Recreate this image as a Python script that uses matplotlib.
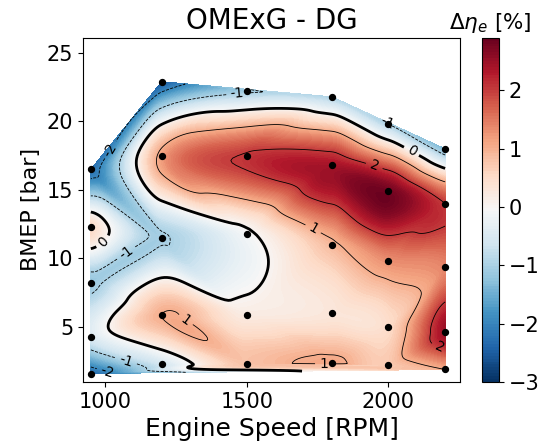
import numpy as np
import matplotlib
matplotlib.use("Agg")
import matplotlib.pyplot as plt
import matplotlib.tri as mtri

# operating points (engine speed [rpm], BMEP [bar]) and efficiency difference [%]
speed = [950, 950, 950, 950, 950,
         1200, 1200, 1200, 1200, 1200,
         1500, 1500, 1500, 1500, 1500,
         1800, 1800, 1800, 1800, 1800,
         2000, 2000, 2000, 2000, 2000,
         2200, 2200, 2200, 2200, 2200]
bmep = [1.6, 4.3, 8.2, 12.3, 16.5,
        2.3, 5.9, 11.5, 17.5, 22.9,
        2.3, 5.9, 11.8, 17.5, 22.2,
        2.4, 6.0, 11.0, 16.8, 21.8,
        2.2, 5.0, 9.8, 14.9, 19.8,
        1.9, 4.6, 9.4, 14.0, 18.0]
d_eta = [-2.4, -0.5, -1.15, 0.5, -2.3,
         -0.6, 1.0, -1.05, 1.15, -2.6,
         0.8, 0.2, -0.1, 2.05, -1.1,
         1.1, 0.3, 0.9, 2.4, -1.0,
         0.7, 0.5, 1.3, 2.8, -1.0,
         1.0, 2.5, 1.4, 2.0, -1.4]

line_levels = [-2, -1, 0, 1, 2]
cbar_ticks = [-3, -2, -1, 0, 1, 2]

x = np.array(speed, dtype=float)
y = np.array(bmep, dtype=float)
z = np.array(d_eta, dtype=float)

# cubic interpolation on the triangulated operating map
tri = mtri.Triangulation(x, y)
interp = mtri.CubicTriInterpolator(tri, z, kind="geom")
refiner = mtri.UniformTriRefiner(tri)
tri_r, z_r = refiner.refine_field(z, triinterpolator=interp, subdiv=5)
z_r = np.clip(z_r, -2.99, 2.89)

fig = plt.figure(figsize=(5.42, 4.45), dpi=100)
ax = fig.add_axes([0.153, 0.142, 0.696, 0.773])
cax = fig.add_axes([0.889, 0.142, 0.031, 0.773])

levels = np.linspace(-3, 2.9, 120)
cf = ax.tricontourf(tri_r, z_r, levels=levels, cmap="RdBu_r")
cs = ax.tricontour(tri_r, z_r, levels=line_levels, colors="k",
                   linewidths=[0.6, 0.6, 2.0, 0.6, 0.6])
ax.clabel(cs, fmt="%d", fontsize=10, inline=True)
ax.scatter(x, y, s=18, c="k", zorder=5)

ax.set_xlim(922, 2253)
ax.set_ylim(1.0, 26.1)
ax.set_xticks([1000, 1500, 2000])
ax.set_yticks([5, 10, 15, 20, 25])
ax.tick_params(labelsize=15)
ax.set_xlabel("Engine Speed [RPM]", fontsize=18)
ax.set_ylabel("BMEP [bar]", fontsize=16)
ax.set_title("OMExG - DG", fontsize=20)

cb = fig.colorbar(cf, cax=cax, ticks=cbar_ticks)
cb.ax.tick_params(labelsize=15)
cb.ax.set_title(r"$\Delta\eta_e$ [%]", fontsize=15.5)

fig.savefig("out.png", dpi=100)
